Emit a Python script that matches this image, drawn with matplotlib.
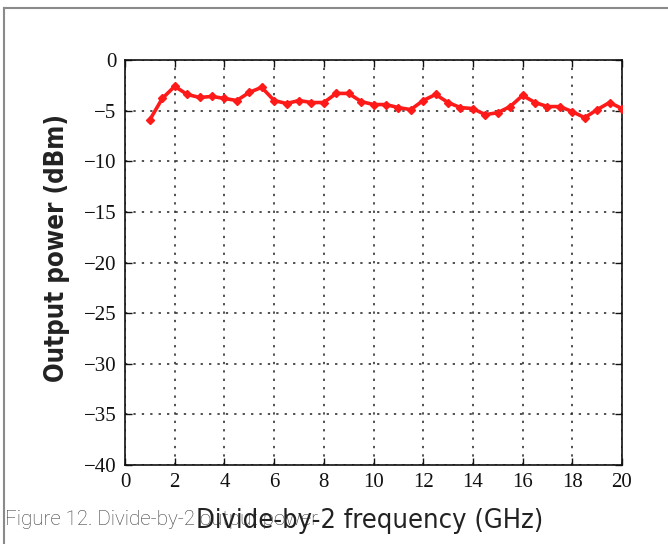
import matplotlib
matplotlib.use("Agg")
import matplotlib.pyplot as plt
from matplotlib.lines import Line2D

freq_ghz = [1, 1.5, 2, 2.5, 3, 3.5, 4, 4.5, 5, 5.5, 6, 6.5, 7, 7.5, 8, 8.5, 9, 9.5, 10,
            10.5, 11, 11.5, 12, 12.5, 13, 13.5, 14, 14.5, 15, 15.5, 16, 16.5, 17, 17.5,
            18, 18.5, 19, 19.5, 20]
power_dbm = [-5.9, -3.8, -2.6, -3.4, -3.7, -3.6, -3.8, -4.0, -3.2, -2.7, -4.0, -4.3,
             -4.0, -4.2, -4.2, -3.3, -3.3, -4.1, -4.4, -4.4, -4.7, -4.9, -4.0, -3.4,
             -4.2, -4.7, -4.8, -5.4, -5.2, -4.6, -3.5, -4.2, -4.6, -4.6, -5.1, -5.7,
             -4.9, -4.2, -4.8]
x_ticks = [0, 2, 4, 6, 8, 10, 12, 14, 16, 18, 20]
y_ticks = [0, -5, -10, -15, -20, -25, -30, -35, -40]
x_label = "Divide-by-2 frequency (GHz)"
y_label = "Output power (dBm)"
caption = "Figure 12. Divide-by-2 output power"

fig = plt.figure(figsize=(6.68, 5.44), dpi=100)
ax = fig.add_axes([125/668, 1-465/544, 497/668, 405/544])

ax.plot(freq_ghz, power_dbm, color="#ff1a1a", lw=2.6, marker="D", ms=4.5,
        mec="#ff1a1a", mfc="#ff1a1a", zorder=5)

ax.set_xlim(0, 20)
ax.set_ylim(-40, 0)
ax.set_xticks(x_ticks)
ax.set_yticks(y_ticks)
ax.set_xticklabels([str(v) for v in x_ticks], family="Liberation Serif", fontsize=15)
ax.set_yticklabels([str(v).replace("-", "\u2212") for v in y_ticks],
                   family="Liberation Serif", fontsize=15)
ax.tick_params(direction="in", top=True, right=True, length=5, width=1, pad=6,
               colors="#111111")
ax.grid(True, color="#222222", linestyle=(0, (1.5, 4)), linewidth=1.1)
for s in ax.spines.values():
    s.set_linewidth(1.2)
    s.set_color("#111111")

fig.text(57/668, 1-248/544, y_label, family="DejaVu Sans", fontstretch="condensed",
         fontweight="bold", fontsize=18.5, color="#222222", rotation=90,
         ha="center", va="center")

fig.text(5/668, 1-525/544, caption, family="Roboto", fontweight="light",
         fontsize=14.8, color="#3a3a3a", zorder=1)
fig.text(370/668, 1-528/544, x_label, family="DejaVu Sans", fontstretch="condensed",
         fontsize=19.5, color="#222222", ha="center", zorder=2)

# page frame lines
fig.add_artist(Line2D([4/668, 4/668], [0, 1-8/544], transform=fig.transFigure,
                      color="#8a8a8a", lw=1.5))
fig.add_artist(Line2D([4/668, 1], [1-8/544, 1-8/544], transform=fig.transFigure,
                      color="#8a8a8a", lw=1.5))

fig.savefig("out.png", dpi=100)
